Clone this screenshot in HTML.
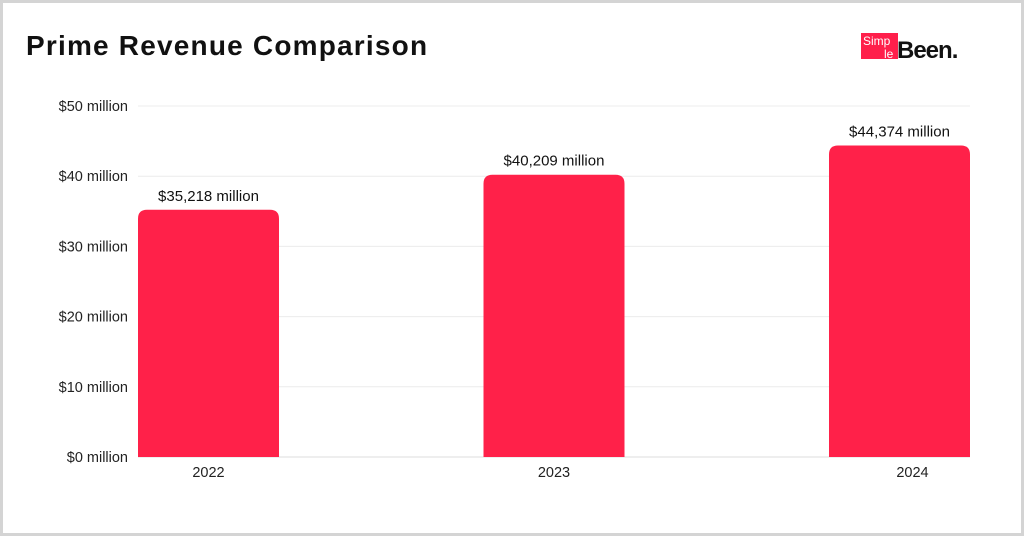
<!DOCTYPE html>
<html><head><meta charset="utf-8"><style>
html,body{margin:0;padding:0;background:#fff;}
body{width:1024px;height:536px;overflow:hidden;font-family:"Liberation Sans",sans-serif;}
#frame{position:absolute;left:0;top:0;width:1018px;height:530px;border:3px solid #d4d4d4;}
#title{position:absolute;left:26px;top:30px;font-size:28px;font-weight:bold;color:#111;letter-spacing:1.2px;}
#logo{position:absolute;left:861px;top:33px;}
</style></head><body>
<div id="frame"></div>
<div id="title">Prime Revenue Comparison</div>
<svg id="logo" width="106" height="28" viewBox="0 0 106 28">
<rect x="0" y="0" width="37" height="26" fill="#ff1f4b"/>
<text x="2" y="12" font-size="12" fill="#fff" font-family="Liberation Sans">Simp</text>
<text x="23" y="25" font-size="12" fill="#fff" font-family="Liberation Sans">le</text>
<text x="36" y="25" font-size="24" font-weight="bold" fill="#111" font-family="Liberation Sans" letter-spacing="-1">Been.</text>
</svg>
<svg id="chart" width="1024" height="536" style="position:absolute;left:0;top:0"></svg>
<script>
const categories=["2022","2023","2024"];
const values=[35.218,40.209,44.374];
const valueLabels=["$35,218 million","$40,209 million","$44,374 million"];
const ticks=[0,10,20,30,40,50];
const tickLabels=["$0 million","$10 million","$20 million","$30 million","$40 million","$50 million"];
const NS="http://www.w3.org/2000/svg";
const svg=document.getElementById('chart');
const x0=138,x1=970,y0=457,y1=106,bw=141;
const y=v=>y0-(v/50)*(y0-y1);
const bx=i=>x0+i*((x1-bw-x0)/(categories.length-1));
function mk(t,a){const e=document.createElementNS(NS,t);for(const k in a)e.setAttribute(k,a[k]);svg.appendChild(e);return e;}
ticks.forEach((t,i)=>{
 const l=mk('line',{x1:x0,x2:x1,y1:y(t),y2:y(t),stroke:i==0?'#dcdcdc':'#ececec','stroke-width':1});
 
 
 const tx=mk('text',{x:128,y:y(t)+5,'text-anchor':'end','font-size':14.5,fill:'#222'});
 tx.textContent=tickLabels[i];
 
 
});
values.forEach((v,i)=>{
 const X=bx(i),Y=y(v),r=9;
 const p=mk('path',{d:`M${X},${y0} L${X},${Y+r} Q${X},${Y} ${X+r},${Y} L${X+bw-r},${Y} Q${X+bw},${Y} ${X+bw},${Y+r} L${X+bw},${y0} Z`,fill:'#ff2149'});
 
 
 const lb=mk('text',{x:X+bw/2,y:Y-9,'text-anchor':'middle','font-size':15,fill:'#111'});
 lb.textContent=valueLabels[i];
 
 
 const cx=i==categories.length-1?X+bw/2+13:X+bw/2;
 const cl=mk('text',{x:cx,y:477,'text-anchor':'middle','font-size':14.5,fill:'#222'});
 cl.textContent=categories[i];
 
 
});
</script>
</body></html>
